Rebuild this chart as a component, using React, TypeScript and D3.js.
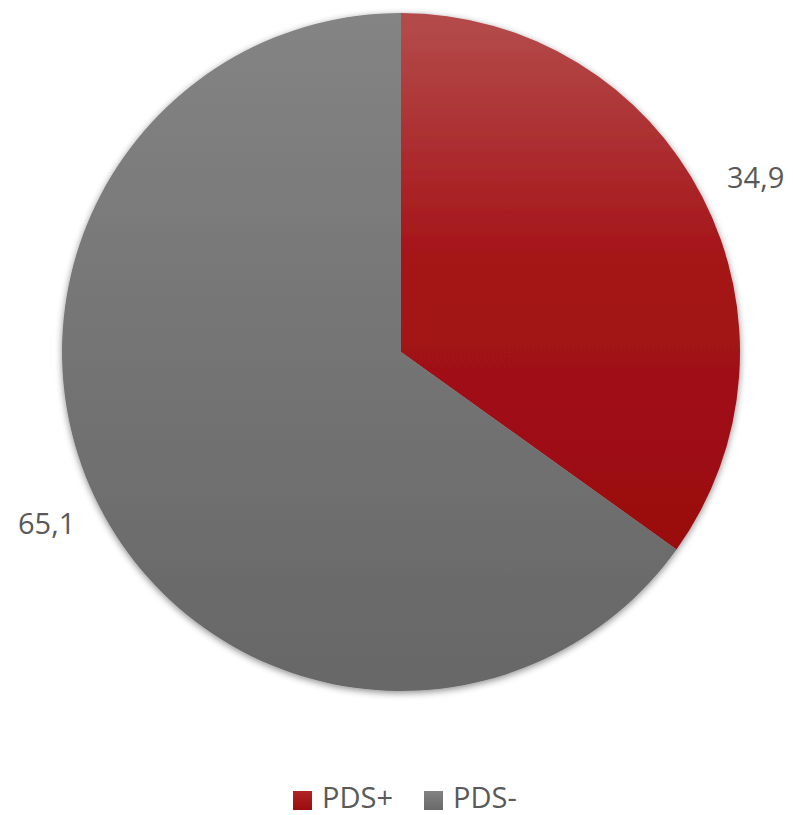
import React from "react";
import * as d3 from "d3";

const categories = ["PDS+", "PDS-"];
const values = [34.9, 65.1];
const labels = ["34,9", "65,1"];

const W = 793;
const H = 815;
const cx = 401;
const cy = 352;
const R = 339;

const gradients = [
  { id: "gRed", stops: [["0", "#b44c4c"], ["0.45", "#a51519"], ["1", "#9a0b0f"]] },
  { id: "gGray", stops: [["0", "#848484"], ["0.5", "#747474"], ["1", "#676767"]] },
];

const labelPos = [
  { x: 727, y: 188, anchor: "start" },
  { x: 18, y: 534, anchor: "start" },
];

export default function App() {
  const pie = d3.pie<number>().sort(null).value((d) => d);
  const arcs = pie(values);
  const arc = d3.arc<d3.PieArcDatum<number>>().innerRadius(0).outerRadius(R);
  const font = "'Segoe UI', 'Open Sans', 'Noto Sans', sans-serif";
  return (
    <svg width={W} height={H} style={{ position: "absolute", left: 0, top: 0 }}>
      <defs>
        {gradients.map((g) => (
          <linearGradient key={g.id} id={g.id} x1="0" y1="0" x2="0" y2="1">
            {g.stops.map(([o, c]) => (
              <stop key={o} offset={o} stopColor={c} />
            ))}
          </linearGradient>
        ))}
        <linearGradient id="lgRed" x1="0" y1="0" x2="0" y2="1">
          <stop offset="0" stopColor="#b02424" />
          <stop offset="1" stopColor="#9a0c10" />
        </linearGradient>
        <linearGradient id="lgGray" x1="0" y1="0" x2="0" y2="1">
          <stop offset="0" stopColor="#828282" />
          <stop offset="1" stopColor="#6a6a6a" />
        </linearGradient>
        <filter id="shadow" x="-10%" y="-10%" width="120%" height="120%">
          <feDropShadow dx="0" dy="2" stdDeviation="3.5" floodColor="#000" floodOpacity="0.45" />
        </filter>
      </defs>
      <g transform={`translate(${cx},${cy})`} filter="url(#shadow)">
        {arcs.map((a, i) => (
          <path key={categories[i]} d={arc(a) || ""} fill={`url(#${gradients[i].id})`} />
        ))}
      </g>
      {labels.map((l, i) => (
        <text key={l} x={labelPos[i].x} y={labelPos[i].y} textAnchor={labelPos[i].anchor as any}
          fontFamily={font} fontSize={29} fill="#595959">{l}</text>
      ))}
      <g>
        <rect x={293} y={791} width={19} height={19} fill="url(#lgRed)" />
        <text x={322} y={808} fontFamily={font} fontSize={29} fill="#595959">{categories[0]}</text>
        <rect x={424} y={791} width={19} height={19} fill="url(#lgGray)" />
        <text x={453} y={808} fontFamily={font} fontSize={29} fill="#595959">{categories[1]}</text>
      </g>
    </svg>
  );
}
